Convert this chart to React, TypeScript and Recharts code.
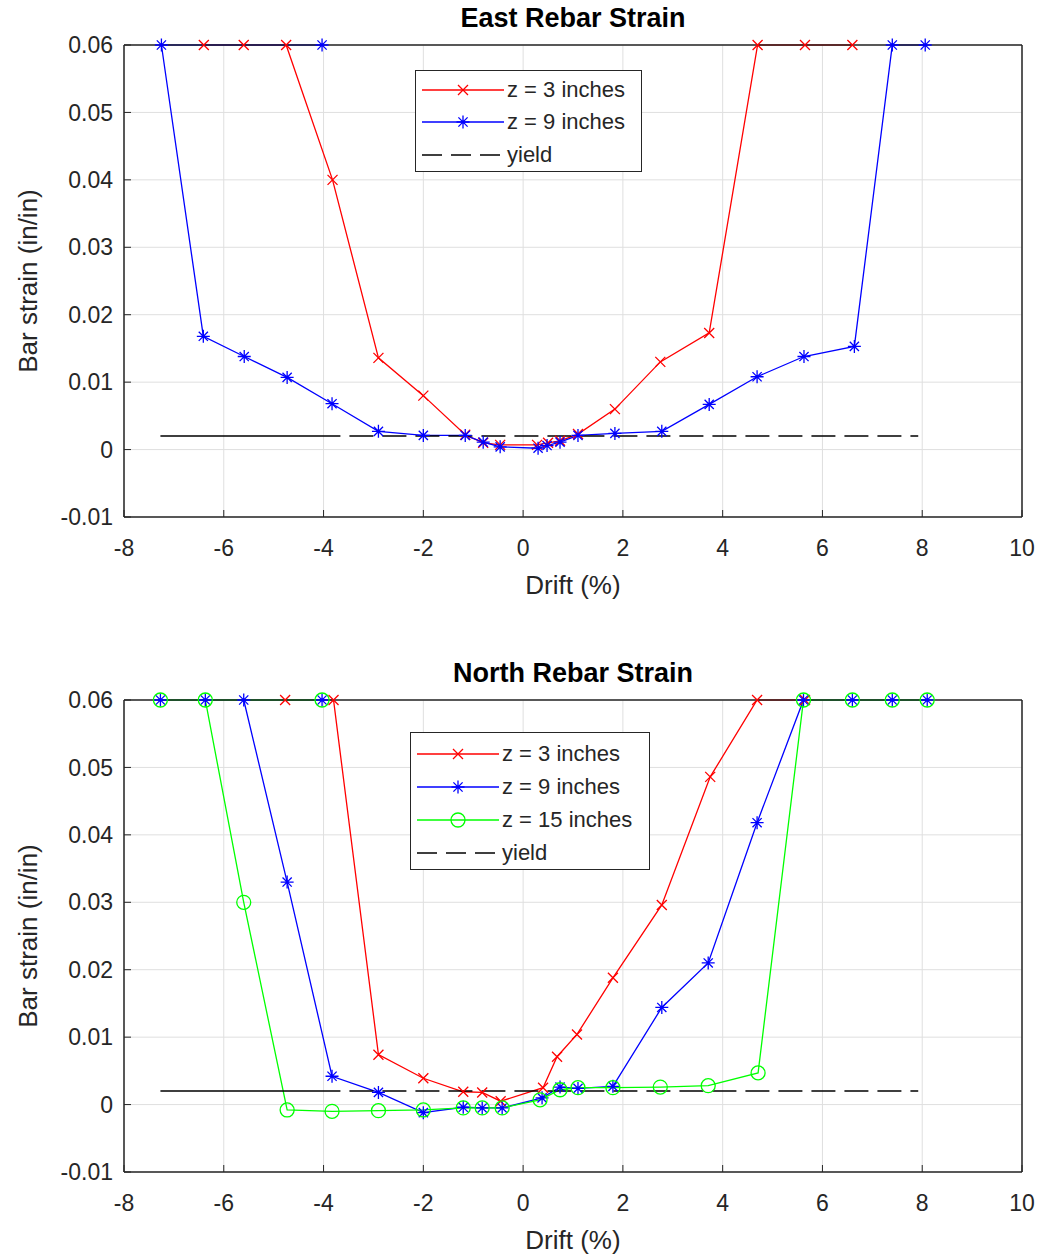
import React from "react";
import { LineChart, Line, XAxis, YAxis, CartesianGrid } from "recharts";

// ---- values (drift %, strain in/in) ----
const xTicks = [-8, -6, -4, -2, 0, 2, 4, 6, 8, 10];
const yTicks = [-0.01, 0, 0.01, 0.02, 0.03, 0.04, 0.05, 0.06];

// East rebar, z = 3 in
const eastDrift3 = [-6.4, -5.6, -4.75, -3.82, -2.9, -2.0, -1.16, -0.8, -0.46, 0.28, 0.5, 0.74, 1.1, 1.84, 2.75, 3.73, 4.7, 5.65, 6.6];
const eastStrain3 = [0.06, 0.06, 0.06, 0.04, 0.0136, 0.008, 0.0022, 0.001, 0.0007, 0.0007, 0.001, 0.0013, 0.0023, 0.006, 0.013, 0.0173, 0.06, 0.06, 0.06];

// East rebar, z = 9 in
const eastDrift9 = [-4.03, -7.25, -6.41, -5.59, -4.73, -3.83, -2.9, -2.0, -1.16, -0.8, -0.46, 0.3, 0.48, 0.74, 1.1, 1.84, 2.78, 3.73, 4.69, 5.63, 6.64, 7.4, 8.06];
const eastStrain9 = [0.06, 0.06, 0.0168, 0.0138, 0.0107, 0.0068, 0.0027, 0.0021, 0.0021, 0.0011, 0.0004, 0.0002, 0.0006, 0.0011, 0.0021, 0.0024, 0.0027, 0.0067, 0.0108, 0.0138, 0.0153, 0.06, 0.06];

// North rebar, z = 3 in
const northDrift3 = [-4.77, -3.8, -2.9, -2.0, -1.2, -0.82, -0.45, 0.4, 0.68, 1.08, 1.8, 2.78, 3.75, 4.69, 5.65];
const northStrain3 = [0.06, 0.06, 0.0074, 0.0039, 0.0019, 0.0018, 0.0005, 0.0025, 0.0071, 0.0104, 0.0188, 0.0296, 0.0486, 0.06, 0.06];

// North rebar, z = 9 in
const northDrift9 = [-4.03, -7.27, -6.37, -5.6, -4.73, -3.83, -2.9, -2.0, -1.2, -0.82, -0.42, 0.38, 0.74, 1.1, 1.8, 2.78, 3.71, 4.69, 5.62, 6.6, 7.4, 8.1];
const northStrain9 = [0.06, 0.06, 0.06, 0.06, 0.033, 0.0042, 0.0018, -0.0012, -0.0004, -0.0005, -0.0005, 0.001, 0.0026, 0.0024, 0.0027, 0.0144, 0.021, 0.0418, 0.06, 0.06, 0.06, 0.06];

// North rebar, z = 15 in
const northDrift15 = [-4.03, -7.27, -6.37, -5.6, -4.73, -3.83, -2.9, -2.0, -1.2, -0.82, -0.42, 0.34, 0.74, 1.1, 1.8, 2.75, 3.71, 4.71, 5.62, 6.6, 7.4, 8.1];
const northStrain15 = [0.06, 0.06, 0.06, 0.03, -0.0008, -0.001, -0.0009, -0.0008, -0.0005, -0.0005, -0.0005, 0.0007, 0.0022, 0.0025, 0.0025, 0.0026, 0.0028, 0.0047, 0.06, 0.06, 0.06, 0.06];

// yield line
const yieldDrift = [-7.27, 7.92];
const yieldStrain = [0.002, 0.002];

const zip = (xs: number[], ys: number[]) => xs.map((x, i) => ({ x, y: ys[i] }));

const RED = "#ff0000";
const BLUE = "#0000ff";
const GREEN = "#00ff00";
const AX = "#262626";
const FONT = "'Liberation Sans', Arial, Helvetica, sans-serif";

// long first dash, then regular dashes (as in the figure)
const yieldDash = ["180 9", ...Array(40).fill("24 9")].join(" ");

function Cross({ cx, cy, color }: any) {
  const s = 5;
  return (
    <path
      d={`M${cx - s},${cy - s}L${cx + s},${cy + s}M${cx - s},${cy + s}L${cx + s},${cy - s}`}
      stroke={color}
      strokeWidth={1.3}
      fill="none"
    />
  );
}

function Star({ cx, cy, color }: any) {
  const s = 6.5;
  const d = 4.6;
  return (
    <path
      d={`M${cx - s},${cy}L${cx + s},${cy}M${cx},${cy - s}L${cx},${cy + s}M${cx - d},${cy - d}L${cx + d},${cy + d}M${cx - d},${cy + d}L${cx + d},${cy - d}`}
      stroke={color}
      strokeWidth={1.3}
      fill="none"
    />
  );
}

function Ring({ cx, cy, color }: any) {
  return <circle cx={cx} cy={cy} r={7} stroke={color} strokeWidth={1.3} fill="none" />;
}

const dotOf = (Shape: any, color: string) => (p: any) =>
  p.cx == null ? <g key={p.index} /> : <Shape key={p.index} cx={p.cx} cy={p.cy} color={color} />;

const fmtY = (v: number) => (Math.abs(v) < 1e-9 ? "0" : v.toFixed(2));

type Series = { data: { x: number; y: number }[]; color: string; shape: any };

function Panel({ series }: { series: Series[] }) {
  return (
    <LineChart width={1043} height={600} margin={{ top: 44, right: 20, left: 0, bottom: 0 }}>
      <CartesianGrid stroke="#dfdfdf" strokeWidth={1} horizontalValues={yTicks} verticalValues={xTicks} />
      <XAxis
        dataKey="x"
        type="number"
        domain={[-8, 10]}
        ticks={xTicks}
        height={83}
        tickSize={-7}
        tickMargin={30}
        axisLine={{ stroke: AX, strokeWidth: 1.5 }}
        tickLine={{ stroke: AX }}
        tick={{ fill: AX, fontSize: 23, fontFamily: FONT }}
      />
      <XAxis
        xAxisId="top"
        orientation="top"
        dataKey="x"
        type="number"
        domain={[-8, 10]}
        ticks={xTicks}
        height={1}
        tickSize={-7}
        tickFormatter={() => ""}
        axisLine={{ stroke: AX, strokeWidth: 1.5 }}
        tickLine={{ stroke: AX }}
      />
      <YAxis
        type="number"
        domain={[-0.01, 0.06]}
        ticks={yTicks}
        width={124}
        tickSize={-7}
        tickMargin={18}
        tickFormatter={fmtY}
        axisLine={{ stroke: AX, strokeWidth: 1.5 }}
        tickLine={{ stroke: AX }}
        tick={{ fill: AX, fontSize: 23, fontFamily: FONT }}
      />
      <YAxis
        yAxisId="right"
        orientation="right"
        type="number"
        domain={[-0.01, 0.06]}
        ticks={yTicks}
        width={1}
        tickSize={-7}
        tickFormatter={() => ""}
        axisLine={{ stroke: AX, strokeWidth: 1.5 }}
        tickLine={{ stroke: AX }}
      />
      {series.map((s, i) => (
        <Line
          key={i}
          data={s.data}
          dataKey="y"
          type="linear"
          stroke={s.color}
          strokeWidth={1.3}
          dot={dotOf(s.shape, s.color)}
          activeDot={false}
          isAnimationActive={false}
        />
      ))}
      <Line
        data={zip(yieldDrift, yieldStrain)}
        dataKey="y"
        type="linear"
        stroke="#000000"
        strokeWidth={1.5}
        strokeDasharray={yieldDash}
        dot={false}
        activeDot={false}
        isAnimationActive={false}
      />
    </LineChart>
  );
}

function LegendBox({ left, top, width, rows, rowTops }: any) {
  return (
    <div
      style={{
        position: "absolute",
        left,
        top,
        width,
        height: rowTops[rowTops.length - 1] + 18,
        border: `1.5px solid ${AX}`,
        background: "#fff",
        boxSizing: "border-box",
      }}
    >
      {rows.map((r: any, i: number) => (
        <div
          key={i}
          style={{ position: "absolute", left: 4, top: rowTops[i] - 15, height: 30, display: "flex", alignItems: "center" }}
        >
          <svg width={86} height={30}>
            <line
              x1={2}
              y1={15}
              x2={84}
              y2={15}
              stroke={r.color}
              strokeWidth={1.5}
              strokeDasharray={r.dashed ? "20 9" : undefined}
            />
            {r.shape ? <r.shape cx={43} cy={15} color={r.color} /> : null}
          </svg>
          <span style={{ fontSize: 22, color: AX, fontFamily: FONT, marginLeft: 1, whiteSpace: "nowrap" }}>{r.label}</span>
        </div>
      ))}
    </div>
  );
}

const textStyle: any = { position: "absolute", fontFamily: FONT, color: AX, textAlign: "center", whiteSpace: "nowrap" };

function Titles({ top, title }: { top: number; title: string }) {
  return (
    <>
      <div style={{ ...textStyle, left: 124, width: 898, top: top + 2, lineHeight: "32px", fontSize: 27, fontWeight: "bold", color: "#000" }}>
        {title}
      </div>
      <div style={{ ...textStyle, left: 124, width: 898, top: top + 568, lineHeight: "34px", fontSize: 26 }}>Drift (%)</div>
      <div
        style={{
          ...textStyle,
          left: 28 - 200,
          width: 400,
          top: top + 281 - 17,
          lineHeight: "34px",
          fontSize: 26,
          transform: "rotate(-90deg)",
        }}
      >
        Bar strain (in/in)
      </div>
    </>
  );
}

export default function App() {
  const east: Series[] = [
    { data: zip(eastDrift3, eastStrain3), color: RED, shape: Cross },
    { data: zip(eastDrift9, eastStrain9), color: BLUE, shape: Star },
  ];
  const north: Series[] = [
    { data: zip(northDrift3, northStrain3), color: RED, shape: Cross },
    { data: zip(northDrift9, northStrain9), color: BLUE, shape: Star },
    { data: zip(northDrift15, northStrain15), color: GREEN, shape: Ring },
  ];

  return (
    <div style={{ position: "absolute", left: 0, top: 0, width: 1043, height: 1260, background: "#fff", fontFamily: FONT }}>
      <div style={{ position: "absolute", left: 0, top: 0 }}>
        <Panel series={east} />
      </div>
      <div style={{ position: "absolute", left: 0, top: 655 }}>
        <Panel series={north} />
      </div>
      <Titles top={0} title="East Rebar Strain" />
      <Titles top={655} title="North Rebar Strain" />
      <LegendBox
        left={415}
        top={70}
        width={227}
        rowTops={[19, 51, 84]}
        rows={[
          { label: "z = 3 inches", color: RED, shape: Cross },
          { label: "z = 9 inches", color: BLUE, shape: Star },
          { label: "yield", color: "#000", dashed: true },
        ]}
      />
      <LegendBox
        left={410}
        top={732}
        width={240}
        rowTops={[21, 54, 87, 120]}
        rows={[
          { label: "z = 3 inches", color: RED, shape: Cross },
          { label: "z = 9 inches", color: BLUE, shape: Star },
          { label: "z = 15 inches", color: GREEN, shape: Ring },
          { label: "yield", color: "#000", dashed: true },
        ]}
      />
    </div>
  );
}
